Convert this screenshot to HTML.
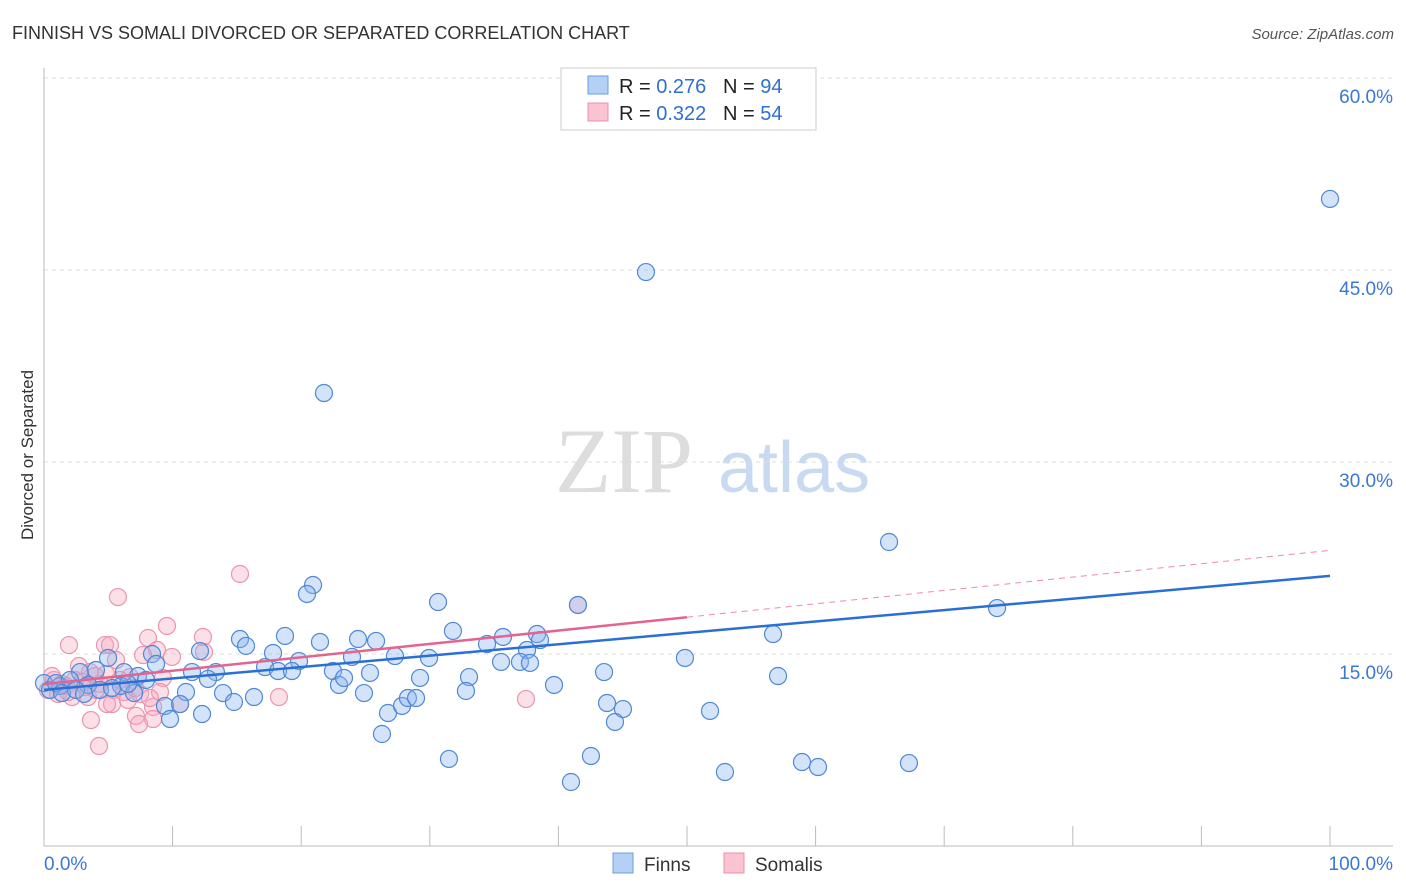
<!DOCTYPE html>
<html><head><meta charset="utf-8"><style>
body{margin:0;background:#fff;font-family:"Liberation Sans",sans-serif;}
#wrap{position:relative;width:1406px;height:892px;overflow:hidden;}
</style></head><body>
<div id="wrap">
<svg id="chart" width="1406" height="892">
<text x="12" y="39" font-size="18" fill="#333">FINNISH VS SOMALI DIVORCED OR SEPARATED CORRELATION CHART</text>
<text x="1394" y="39" font-size="15" fill="#555" font-style="italic" text-anchor="end">Source: ZipAtlas.com</text>
<text x="0" y="0" transform="translate(33,455) rotate(-90)" font-size="17" fill="#333" text-anchor="middle">Divorced or Separated</text>
<text x="555" y="492" font-size="92" fill="#ddd" font-family="Liberation Serif,serif">ZIP</text>
<text x="718" y="492" font-size="72" fill="#c8daf2">atlas</text>
<g id="grid"></g><g id="axes"></g><g id="pts"></g><g id="lines"></g>
<g>
<rect x="561" y="68" width="255" height="62" fill="#fff" stroke="#ccc"/>
<rect x="588" y="76" width="20" height="18" fill="#b5d0f5" stroke="#6a9ce0"/>
<rect x="588" y="103" width="20" height="18" fill="#f9c3d1" stroke="#e890a8"/>
<text x="619" y="93" font-size="20" fill="#222">R = <tspan fill="#2f6fd0">0.276</tspan>&#160;&#160;&#160;N = <tspan fill="#2f6fd0">94</tspan></text>
<text x="619" y="120" font-size="20" fill="#222">R = <tspan fill="#2f6fd0">0.322</tspan>&#160;&#160;&#160;N = <tspan fill="#2f6fd0">54</tspan></text>
</g>
<g>
<rect x="613" y="853" width="20" height="20" fill="#b5d0f5" stroke="#6a9ce0"/>
<text x="644" y="871" font-size="19" fill="#333">Finns</text>
<rect x="724" y="853" width="20" height="20" fill="#f9c3d1" stroke="#e890a8"/>
<text x="755" y="871" font-size="19" fill="#333">Somalis</text>
</g>
</svg>
</div>
<script>
const finnsPx=[[1330,199],[646,272],[324,393],[889,542],[313,585],[307,594],[438,602],[578,605],[997,608],[285,636],[453,631],[537,634],[773,634],[240,639],[320,642],[358,639],[376,641],[503,637],[246,646],[487,644],[540,640],[200,651],[273,653],[527,650],[152,654],[108,658],[299,661],[352,657],[395,656],[429,658],[501,662],[520,662],[530,663],[685,658],[265,667],[278,671],[292,671],[333,671],[370,673],[604,672],[124,672],[138,676],[156,664],[192,672],[216,672],[469,677],[778,676],[44,683],[60,686],[80,672],[96,670],[121,686],[186,692],[208,679],[223,693],[254,697],[234,702],[339,685],[344,678],[364,693],[420,678],[466,691],[554,685],[134,693],[165,706],[180,704],[170,719],[202,714],[388,713],[402,706],[408,698],[416,698],[607,703],[623,709],[615,722],[710,711],[382,734],[449,759],[591,756],[571,782],[725,772],[802,762],[818,767],[909,763],[50,690],[56,683],[70,680],[88,685],[100,690],[112,688],[128,684],[146,680],[62,693],[76,690],[84,694]];
const somalisPx=[[240,574],[118,597],[167,626],[578,605],[203,637],[69,645],[105,645],[110,645],[148,638],[157,650],[204,652],[143,655],[172,657],[116,660],[79,666],[90,672],[130,677],[163,678],[54,680],[66,686],[86,687],[100,684],[113,690],[160,692],[124,692],[72,697],[88,697],[279,697],[526,699],[112,704],[107,704],[128,700],[153,707],[180,704],[91,720],[136,716],[139,724],[153,719],[99,746],[48,690],[58,694],[62,684],[75,680],[96,690],[82,682],[106,674],[120,680],[135,688],[140,694],[52,676],[68,692],[95,676],[150,698]];
const finnsX=finnsPx.map(p=>+((p[0]-44)/12.86).toFixed(2));
const finnsY=finnsPx.map(p=>+((846-p[1])/12.8).toFixed(2));
const somalisX=somalisPx.map(p=>+((p[0]-44)/12.86).toFixed(2));
const somalisY=somalisPx.map(p=>+((846-p[1])/12.8).toFixed(2));
const yTicks=[15,30,45,60];
const yTickLabels=["15.0%","30.0%","45.0%","60.0%"];
const finnsTrend=[12.2,21.1];
const somalisTrend=[12.65,23.1];
const somalisSolidEnd=50;

const NS="http://www.w3.org/2000/svg";
const sx=v=>44+v*12.86, sy=v=>846-v*12.8;
function mk(tag,attrs,parent){const e=document.createElementNS(NS,tag);for(const k in attrs)e.setAttribute(k,attrs[k]);parent.appendChild(e);return e;}
const gridG=document.getElementById('grid'),axesG=document.getElementById('axes'),ptsG=document.getElementById('pts'),linesG=document.getElementById('lines');
yTicks.forEach((t,i)=>{
 const g=mk('line',{x1:44,x2:1393,y1:sy(t),y2:sy(t),stroke:'#ddd','stroke-dasharray':'4,4'},gridG);
 
 
 const l=mk('text',{x:1393,y:sy(t)+25,'font-size':19,fill:'#3a78d4','text-anchor':'end'},axesG);
 l.textContent=yTickLabels[i];
 
 
});
const topGrid=mk('line',{x1:44,x2:1393,y1:78,y2:78,stroke:'#ddd','stroke-dasharray':'4,4'},gridG);


const ya=mk('line',{x1:44,x2:44,y1:68,y2:846,stroke:'#bbb'},axesG);


const xa=mk('line',{x1:44,x2:1393,y1:846,y2:846,stroke:'#bbb'},axesG);


for(let i=0;i<=10;i++){const t=mk('line',{x1:sx(i*10),x2:sx(i*10),y1:826,y2:846,stroke:'#bbb'},axesG);
 
 }
const xl0=mk('text',{x:44,y:870,'font-size':19,fill:'#3a78d4'},axesG);xl0.textContent='0.0%';


const xl1=mk('text',{x:1393,y:870,'font-size':19,fill:'#3a78d4','text-anchor':'end'},axesG);xl1.textContent='100.0%';


function dots(X,Y,fill,stroke,name){X.forEach((x,i)=>{const c=mk('circle',{cx:sx(x),cy:sy(Y[i]),r:8.5,fill:fill,stroke:stroke,'stroke-width':1.2},ptsG);
 
 });}
dots(somalisX,somalisY,'rgba(245,165,188,0.35)','#ec94ae','point-somalis');
dots(finnsX,finnsY,'rgba(140,182,240,0.38)','#4f88d6','point-finns');
const bl=mk('line',{x1:sx(0),y1:sy(finnsTrend[0]),x2:sx(100),y2:sy(finnsTrend[1]),stroke:'#2a6fd6','stroke-width':2.5},linesG);


const ps=v=>somalisTrend[0]+(somalisTrend[1]-somalisTrend[0])*v/100;
const pl=mk('line',{x1:sx(0),y1:sy(ps(0)),x2:sx(somalisSolidEnd),y2:sy(ps(somalisSolidEnd)),stroke:'#e3648e','stroke-width':2.5},linesG);


const pd=mk('line',{x1:sx(somalisSolidEnd),y1:sy(ps(somalisSolidEnd)),x2:sx(100),y2:sy(ps(100)),stroke:'#eb8aa8','stroke-width':1,'stroke-dasharray':'6,5'},linesG);


</script>
</body></html>
